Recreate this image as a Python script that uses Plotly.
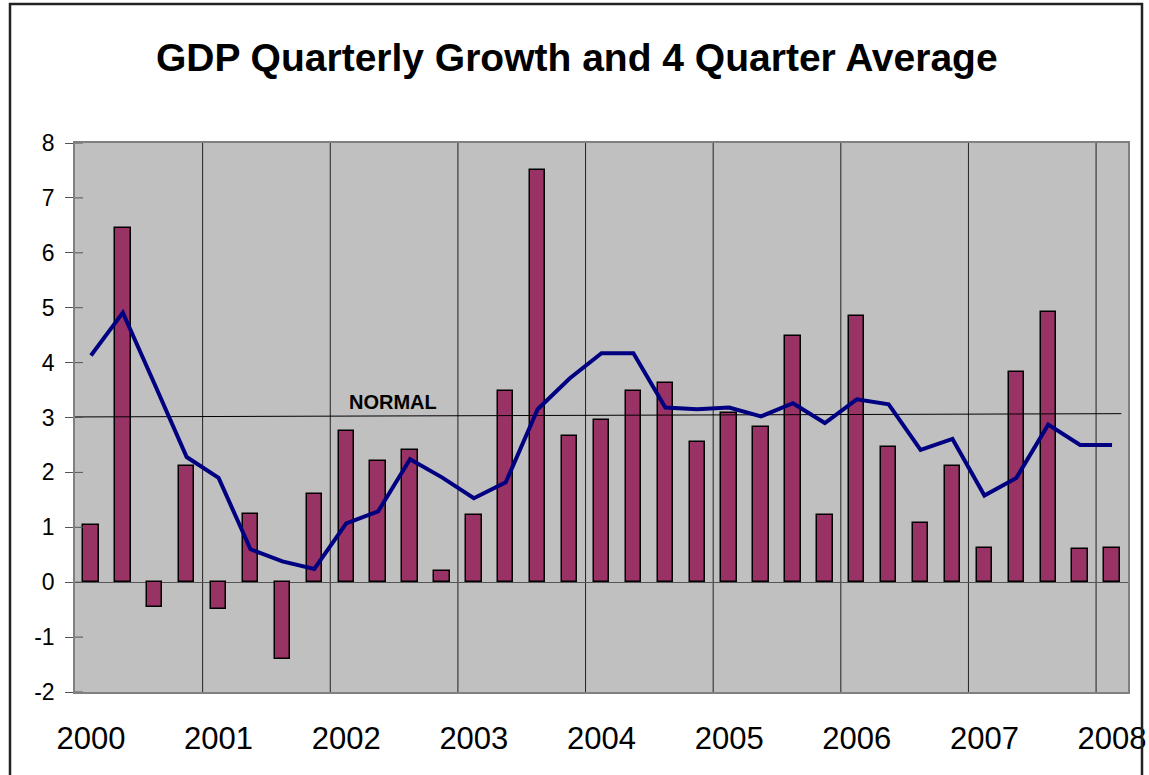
import plotly.graph_objects as go

# Quarterly GDP growth (annualised %), 2000 Q1 .. 2008 Q1
quarters = [f"{y} Q{q}" for y in range(2000, 2009) for q in range(1, 5)][:33]
growth = [1.04, 6.45, -0.45, 2.11,
          -0.48, 1.25, -1.40, 1.60,
          2.76, 2.20, 2.40, 0.21,
          1.22, 3.48, 7.50, 2.67,
          2.96, 3.49, 3.62, 2.56,
          3.09, 2.82, 4.48, 1.22,
          4.84, 2.47, 1.07, 2.11,
          0.63, 3.83, 4.93, 0.60,
          0.63]
# Four-quarter average
avg4 = [4.13, 4.91, 3.60, 2.28,
        1.90, 0.60, 0.38, 0.24,
        1.07, 1.29, 2.24, 1.91,
        1.53, 1.82, 3.15, 3.71,
        4.17, 4.17, 3.18, 3.15,
        3.18, 3.02, 3.26, 2.90,
        3.33, 3.24, 2.41, 2.61,
        1.58, 1.90, 2.87, 2.50,
        2.50]
year_labels = ["2000", "2001", "2002", "2003", "2004", "2005", "2006", "2007", "2008"]
y_ticks = [-2, -1, 0, 1, 2, 3, 4, 5, 6, 7, 8]
y_tick_text = ["-2", "-1", "0", "1", "2", "3", "4", "5", "6", "7", "8"]
normal_ends_x = [-0.5, 32.29]
normal_ends_y = [3.01, 3.07]

FONT = "Arial, Liberation Sans, sans-serif"
x_idx = list(range(len(growth)))
year_pos = [i * 4 for i in range(len(year_labels))]

fig = go.Figure()
fig.add_trace(go.Bar(
    x=x_idx, y=growth, width=0.48,
    marker=dict(color="#993366", line=dict(color="black", width=1.5)),
    hoverinfo="y", showlegend=False,
))
fig.add_trace(go.Scatter(
    x=normal_ends_x, y=normal_ends_y, mode="lines",
    line=dict(color="black", width=1), hoverinfo="skip", showlegend=False,
))
fig.add_trace(go.Scatter(
    x=x_idx, y=avg4, mode="lines",
    line=dict(color="#000080", width=4), showlegend=False,
))

shapes = []
# year separators between Q4 and Q1
for p in year_pos[1:]:
    shapes.append(dict(type="line", xref="x", yref="paper", x0=p - 0.5, x1=p - 0.5,
                       y0=0, y1=1, line=dict(color="#222222", width=1), layer="below"))
# inner half of the crossing y ticks
for v in y_ticks:
    shapes.append(dict(type="line", xref="paper", yref="y", x0=0, x1=8 / 1053,
                       y0=v, y1=v, line=dict(color="#555555", width=1)))
# chart frame
shapes.append(dict(type="rect", xref="paper", yref="paper",
                   x0=(10 - 75) / 1053, x1=(1142 - 75) / 1053,
                   y0=-0.3, y1=(691.7 - 4) / 548.7,
                   line=dict(color="#222222", width=2.5), fillcolor="rgba(0,0,0,0)"))

fig.update_layout(
    width=1149, height=775,
    margin=dict(l=75, r=21, t=143, b=83, autoexpand=False),
    paper_bgcolor="white", plot_bgcolor="#C0C0C0",
    font=dict(family=FONT, color="black"),
    title=dict(text="<b>GDP Quarterly Growth and 4 Quarter Average</b>",
               x=0.502, xanchor="center", y=1 - 57 / 775, yanchor="middle",
               font=dict(size=39, family=FONT, color="black")),
    shapes=shapes,
    annotations=[dict(x=9.47, y=3.29, xref="x", yref="y", text="<b>NORMAL</b>",
                      showarrow=False, font=dict(size=20, family=FONT, color="black"))],
    bargap=0,
)
fig.update_xaxes(
    range=[-0.5, 32.5], tickvals=year_pos, ticktext=year_labels,
    ticks="", showgrid=False, zeroline=False, automargin=False,
    showline=True, mirror=True, linecolor="#808080", linewidth=1.5,
    tickfont=dict(size=31, family=FONT), ticklabelstandoff=18,
)
fig.update_yaxes(
    range=[-2, 8], tickvals=y_ticks, ticktext=y_tick_text, automargin=False,
    ticks="outside", ticklen=8, tickcolor="#555555",
    showgrid=False, zeroline=True, zerolinecolor="#555555", zerolinewidth=1,
    showline=True, mirror=True, linecolor="#808080", linewidth=1.5,
    tickfont=dict(size=23, family=FONT), ticklabelstandoff=6,
)

fig.write_html("out.html")
